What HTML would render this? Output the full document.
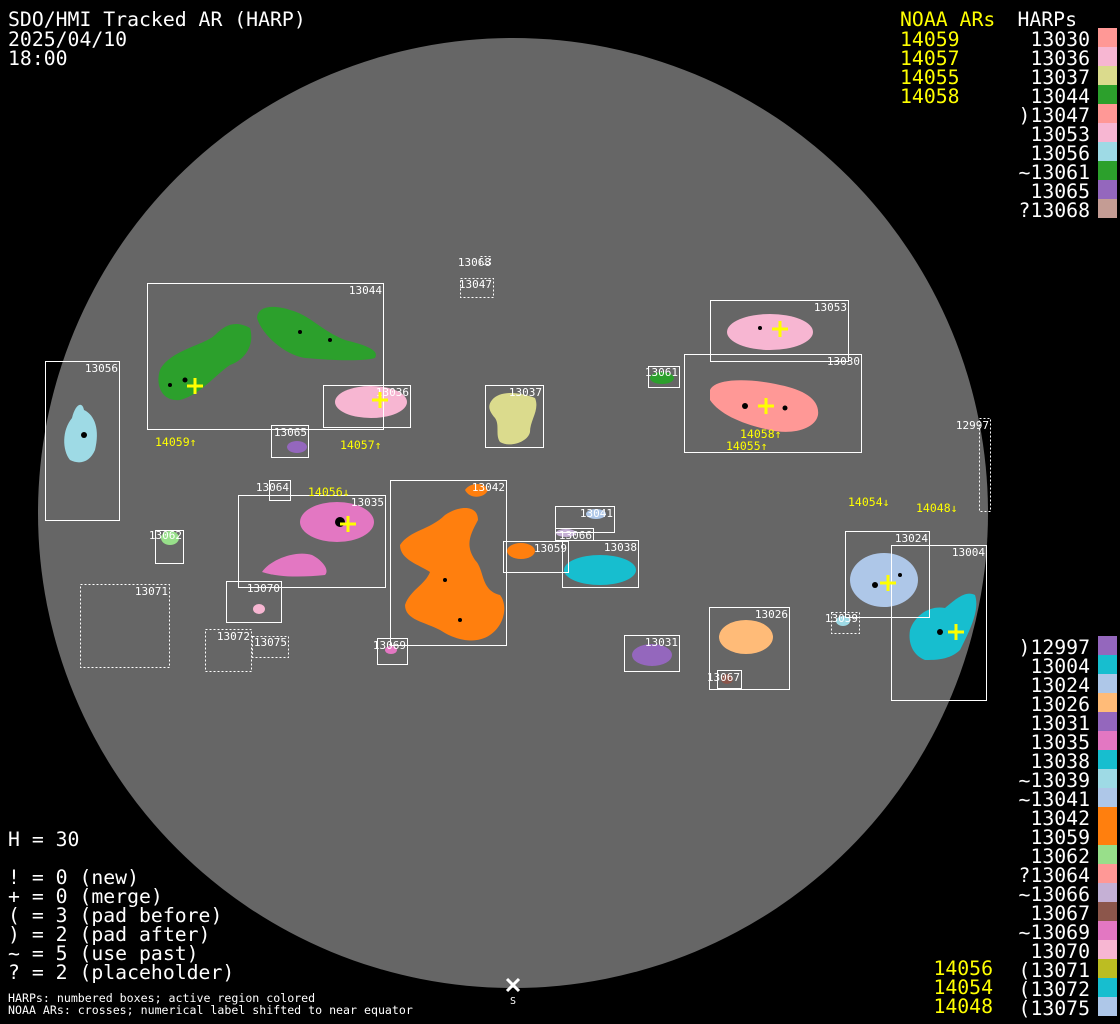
<!DOCTYPE html>
<html><head><meta charset="utf-8"><style>
html,body{margin:0;padding:0;background:#000;}
svg{display:block}
text{font-family:"DejaVu Sans Mono","Liberation Mono",monospace;}
</style></head><body>
<svg width="1120" height="1024" viewBox="0 0 1120 1024" xmlns="http://www.w3.org/2000/svg">
<rect width="1120" height="1024" fill="#000"/>
<circle cx="513" cy="513" r="475" fill="#666"/>

<g>
<path d="M160,370 C170,350 205,345 215,335 C225,325 235,320 250,328 C255,345 245,360 230,365 C215,375 200,395 180,400 C162,402 155,385 160,370Z" fill="#2ca02c"/>
<path d="M257,318 C258,305 275,305 290,310 C310,315 320,330 345,340 C365,345 380,350 375,358 C360,362 330,360 305,358 C285,355 262,335 257,318Z" fill="#2ca02c"/>
<ellipse cx="371" cy="402" rx="36" ry="16" fill="#f7b6d2"/>
<ellipse cx="297" cy="447" rx="10" ry="6" fill="#9467bd"/>
<path d="M72,418 C75,405 82,400 84,410 C95,415 100,430 95,450 C90,462 80,465 70,460 C62,450 62,430 72,418Z" fill="#9edae5"/>
<path d="M492,400 C500,390 520,392 535,398 C540,410 530,420 530,432 C528,442 510,448 500,442 C495,435 500,425 495,418 C488,410 488,405 492,400Z" fill="#dbdb8d"/>
<ellipse cx="770" cy="332" rx="43" ry="18" fill="#f7b6d2"/>
<path d="M710,390 C715,378 750,378 780,385 C805,390 820,400 818,415 C815,430 790,435 770,430 C745,425 720,415 710,400Z" fill="#ff9896"/>
<ellipse cx="662" cy="378" rx="12" ry="6" fill="#2ca02c"/>
<ellipse cx="337" cy="522" rx="37" ry="20" fill="#e377c2"/>
<path d="M262,572 C270,560 295,550 312,555 C322,560 330,570 325,575 C305,577 280,578 262,572Z" fill="#e377c2"/>
<path d="M465,490 C470,482 485,482 488,490 C485,498 470,500 465,490Z" fill="#ff7f0e"/>
<path d="M400,545 C410,530 430,530 445,515 C460,505 478,505 478,520 C470,535 465,545 475,560 C485,570 480,590 500,595 C508,605 505,625 490,635 C475,645 455,640 440,630 C425,622 405,620 405,605 C410,590 425,585 430,572 C420,565 400,560 400,545Z" fill="#ff7f0e"/>
<ellipse cx="521" cy="551" rx="14" ry="8" fill="#ff7f0e"/>
<ellipse cx="596" cy="514" rx="10" ry="5" fill="#aec7e8"/>
<ellipse cx="566" cy="533" rx="10" ry="4" fill="#c5b0d5"/>
<ellipse cx="600" cy="570" rx="36" ry="15" fill="#17becf"/>
<ellipse cx="884" cy="580" rx="34" ry="27" fill="#aec7e8"/>
<path d="M910,630 C915,615 930,605 945,608 C955,600 965,590 975,595 C980,610 970,630 960,650 C950,660 935,660 925,660 C912,655 908,642 910,630Z" fill="#17becf"/>
<ellipse cx="170" cy="538" rx="9" ry="7" fill="#98df8a"/>
<ellipse cx="259" cy="609" rx="6" ry="5" fill="#f7b6d2"/>
<ellipse cx="652" cy="655" rx="20" ry="11" fill="#9467bd"/>
<ellipse cx="746" cy="637" rx="27" ry="17" fill="#ffbb78"/>
<ellipse cx="727" cy="679" rx="6" ry="5" fill="#8c564b"/>
<ellipse cx="843" cy="621" rx="7" ry="5" fill="#9edae5"/>
<ellipse cx="391" cy="650" rx="6" ry="4" fill="#e377c2"/>
</g>
<g fill="#000">
<circle cx="185" cy="380" r="2.5"/><circle cx="170" cy="385" r="2"/><circle cx="300" cy="332" r="2"/><circle cx="330" cy="340" r="2"/>
<circle cx="84" cy="435" r="3"/><circle cx="745" cy="406" r="3"/><circle cx="785" cy="408" r="2.5"/><circle cx="760" cy="328" r="2"/>
<circle cx="340" cy="522" r="5"/><circle cx="875" cy="585" r="3"/><circle cx="900" cy="575" r="2"/><circle cx="940" cy="632" r="3"/>
<circle cx="445" cy="580" r="2"/><circle cx="460" cy="620" r="2"/>
</g>

<g fill="none" stroke="#fff" stroke-width="1">
<rect x="147.5" y="283.5" width="236" height="146"/>
<rect x="323.5" y="385.5" width="87" height="42"/>
<rect x="271.5" y="425.5" width="37" height="32"/>
<rect x="45.5" y="361.5" width="74" height="159"/>
<rect x="485.5" y="385.5" width="58" height="62"/>
<rect x="710.5" y="300.5" width="138" height="61"/>
<rect x="684.5" y="354.5" width="177" height="98"/>
<rect x="648.5" y="366.5" width="31" height="21"/>
<rect x="269.5" y="480.5" width="21" height="20"/>
<rect x="238.5" y="495.5" width="147" height="92"/>
<rect x="390.5" y="480.5" width="116" height="165"/>
<rect x="555.5" y="506.5" width="59" height="26"/>
<rect x="555.5" y="528.5" width="38" height="12"/>
<rect x="503.5" y="541.5" width="65" height="31"/>
<rect x="562.5" y="540.5" width="76" height="47"/>
<rect x="845.5" y="531.5" width="84" height="86"/>
<rect x="891.5" y="545.5" width="95" height="155"/>
<rect x="155.5" y="530.5" width="28" height="33"/>
<rect x="226.5" y="581.5" width="55" height="41"/>
<rect x="377.5" y="638.5" width="30" height="26"/>
<rect x="624.5" y="635.5" width="55" height="36"/>
<rect x="709.5" y="607.5" width="80" height="82"/>
<rect x="717.5" y="670.5" width="24" height="18"/>
</g>
<g fill="none" stroke="#fff" stroke-width="1" stroke-dasharray="2,2">
<rect x="460.5" y="278.5" width="33" height="19"/>
<rect x="480.5" y="256.5" width="10" height="8"/>
<rect x="979.5" y="418.5" width="11" height="93"/>
<rect x="80.5" y="584.5" width="89" height="83"/>
<rect x="205.5" y="629.5" width="46" height="42"/>
<rect x="252.5" y="636.5" width="36" height="21"/>
<rect x="831.5" y="612.5" width="28" height="21"/>
</g>
<g fill="#fff" font-size="11" text-anchor="end">
<text x="382" y="294">13044</text><text x="409" y="396">13036</text><text x="307" y="436">13065</text>
<text x="118" y="372">13056</text><text x="491" y="266">13068</text><text x="492" y="288">13047</text>
<text x="542" y="396">13037</text><text x="847" y="311">13053</text><text x="860" y="365">13030</text>
<text x="678" y="376">13061</text><text x="989" y="429">12997</text><text x="289" y="491">13064</text>
<text x="384" y="506">13035</text><text x="505" y="491">13042</text><text x="613" y="517">13041</text>
<text x="592" y="539">13066</text><text x="567" y="552">13059</text><text x="637" y="551">13038</text>
<text x="928" y="542">13024</text><text x="985" y="556">13004</text><text x="182" y="539">13062</text>
<text x="280" y="592">13070</text><text x="168" y="595">13071</text><text x="250" y="640">13072</text>
<text x="287" y="646">13075</text><text x="406" y="649">13069</text><text x="678" y="646">13031</text>
<text x="788" y="618">13026</text><text x="740" y="681">13067</text><text x="858" y="622">13039</text>
</g>
<g fill="#ff0" font-size="11.5">
<text x="155" y="446">14059↑</text><text x="340" y="449">14057↑</text><text x="308" y="496">14056↓</text>
<text x="740" y="438">14058↑</text><text x="726" y="450">14055↑</text><text x="848" y="506">14054↓</text><text x="916" y="512">14048↓</text>
</g>
<g stroke="#ff0" stroke-width="3">
<path d="M187,386h16M195,378v16"/><path d="M372,400h16M380,392v16"/><path d="M340,524h16M348,516v16"/>
<path d="M772,329h16M780,321v16"/><path d="M758,406h16M766,398v16"/><path d="M880,583h16M888,575v16"/><path d="M948,632h16M956,624v16"/>
</g>
<g stroke="#fff" stroke-width="3"><path d="M507,979l12,12M519,979l-12,12"/></g>
<text x="513" y="1004" fill="#fff" font-size="10" text-anchor="middle">S</text>

<g fill="#fff" font-size="19.8">
<text x="8" y="26">SDO/HMI Tracked AR (HARP)</text>
<text x="8" y="46">2025/04/10</text>
<text x="8" y="65">18:00</text>
<text x="8" y="846">H = 30</text>
<text x="8" y="884">! = 0 (new)</text>
<text x="8" y="903">+ = 0 (merge)</text>
<text x="8" y="922">( = 3 (pad before)</text>
<text x="8" y="941">) = 2 (pad after)</text>
<text x="8" y="960">~ = 5 (use past)</text>
<text x="8" y="979">? = 2 (placeholder)</text>
</g>
<g fill="#fff" font-size="11.6">
<text x="8" y="1002">HARPs: numbered boxes; active region colored</text>
<text x="8" y="1014">NOAA ARs: crosses; numerical label shifted to near equator</text>
</g>
<g fill="#ff0" font-size="19.8">
<text x="900" y="26">NOAA ARs</text>
<text x="900" y="46">14059</text><text x="900" y="65">14057</text><text x="900" y="84">14055</text><text x="900" y="103">14058</text>
<text x="993" y="975" text-anchor="end">14056</text>
<text x="993" y="994" text-anchor="end">14054</text>
<text x="993" y="1013" text-anchor="end">14048</text>
</g>
<g fill="#fff" font-size="19.8" text-anchor="end">
<text x="1077" y="26">HARPs</text>
<text x="1090" y="46">13030</text><text x="1090" y="65">13036</text><text x="1090" y="84">13037</text><text x="1090" y="103">13044</text>
<text x="1090" y="122">)13047</text><text x="1090" y="141">13053</text><text x="1090" y="160">13056</text><text x="1090" y="179">~13061</text>
<text x="1090" y="198">13065</text><text x="1090" y="217">?13068</text>
<text x="1090" y="654">)12997</text><text x="1090" y="673">13004</text><text x="1090" y="692">13024</text><text x="1090" y="711">13026</text>
<text x="1090" y="730">13031</text><text x="1090" y="749">13035</text><text x="1090" y="768">13038</text><text x="1090" y="787">~13039</text>
<text x="1090" y="806">~13041</text><text x="1090" y="825">13042</text><text x="1090" y="844">13059</text><text x="1090" y="863">13062</text>
<text x="1090" y="882">?13064</text><text x="1090" y="901">~13066</text><text x="1090" y="920">13067</text><text x="1090" y="939">~13069</text>
<text x="1090" y="958">13070</text><text x="1090" y="977">(13071</text><text x="1090" y="996">(13072</text><text x="1090" y="1015">(13075</text>
</g>
<g>
<rect x="1098" y="28" width="19" height="19" fill="#ff9896"/><rect x="1098" y="47" width="19" height="19" fill="#f7b6d2"/>
<rect x="1098" y="66" width="19" height="19" fill="#dbdb8d"/><rect x="1098" y="85" width="19" height="19" fill="#2ca02c"/>
<rect x="1098" y="104" width="19" height="19" fill="#ff9896"/><rect x="1098" y="123" width="19" height="19" fill="#f7b6d2"/>
<rect x="1098" y="142" width="19" height="19" fill="#9edae5"/><rect x="1098" y="161" width="19" height="19" fill="#2ca02c"/>
<rect x="1098" y="180" width="19" height="19" fill="#9467bd"/><rect x="1098" y="199" width="19" height="19" fill="#c49c94"/>

<rect x="1098" y="636" width="19" height="19" fill="#9467bd"/><rect x="1098" y="655" width="19" height="19" fill="#17becf"/>
<rect x="1098" y="674" width="19" height="19" fill="#aec7e8"/><rect x="1098" y="693" width="19" height="19" fill="#ffbb78"/>
<rect x="1098" y="712" width="19" height="19" fill="#9467bd"/><rect x="1098" y="731" width="19" height="19" fill="#e377c2"/>
<rect x="1098" y="750" width="19" height="19" fill="#17becf"/><rect x="1098" y="769" width="19" height="19" fill="#9edae5"/>
<rect x="1098" y="788" width="19" height="19" fill="#aec7e8"/><rect x="1098" y="807" width="19" height="19" fill="#ff7f0e"/>
<rect x="1098" y="826" width="19" height="19" fill="#ff7f0e"/><rect x="1098" y="845" width="19" height="19" fill="#98df8a"/>
<rect x="1098" y="864" width="19" height="19" fill="#ff9896"/><rect x="1098" y="883" width="19" height="19" fill="#c5b0d5"/>
<rect x="1098" y="902" width="19" height="19" fill="#8c564b"/><rect x="1098" y="921" width="19" height="19" fill="#e377c2"/>
<rect x="1098" y="940" width="19" height="19" fill="#f7b6d2"/><rect x="1098" y="959" width="19" height="19" fill="#bcbd22"/>
<rect x="1098" y="978" width="19" height="19" fill="#17becf"/><rect x="1098" y="997" width="19" height="19" fill="#aec7e8"/>
</g>
</svg>
</body></html>
